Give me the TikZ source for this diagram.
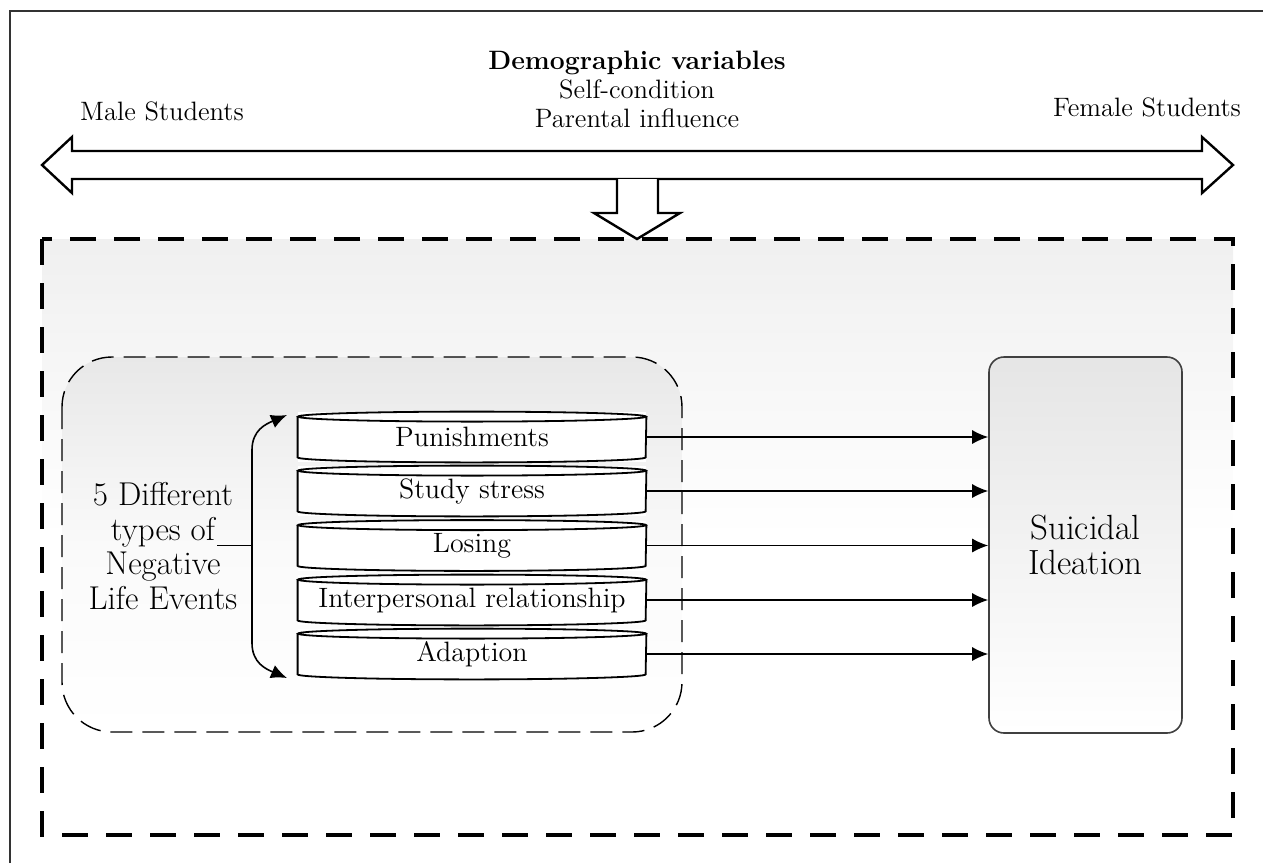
\documentclass[tikz,border=0pt]{standalone}
\usetikzlibrary{arrows.meta,calc}
\tikzset{
    headtext/.style = {align=center, inner sep=0pt,
        font=\fontsize{13.3pt}{14.5pt}\selectfont},
    events/.style = {align=center, inner sep=0pt,
        font=\fontsize{16.5pt}{17.2pt}\selectfont},
    disk/.style = {rectangle, inner sep=0pt, fill=white,
        minimum width=174pt, minimum height=25pt,
        font=\fontsize{14pt}{15pt}\selectfont},
    diskline/.style = {draw, line width=0.9pt},
    conn/.style = {draw, ->, line width=0.7pt},
    bigframe/.style = {draw, line width=1.7pt, dash pattern=on 13pt off 9pt},
    groupframe/.style = {draw, line width=0.7pt, dash pattern=on 11pt off 5pt,
        rounded corners=25pt},
    outcome/.style = {draw=black!75, line width=0.8pt, rounded corners=7.5pt,
        top color=black!10, bottom color=white,
        minimum width=96.5pt, minimum height=188pt, align=center,
        font=\fontsize{17.5pt}{17.5pt}\selectfont},
    blockarrow/.style = {draw, line width=1.2pt, fill=white, line join=miter}
}

\begin{document}
\begin{tikzpicture}[x=0.5pt, y=-0.5pt, >={Latex[length=8pt,width=7pt]}]
        \useasboundingbox (0,0) rectangle (1263,863);
        % page frame, cut at right and bottom
        \draw[black!80, line width=0.75pt] (10,863) -- (10,11) -- (1263,11);
        % soft backgrounds
        \shade[top color=black!6, bottom color=white, middle color=white] (42,239) rectangle (1233,835);
        \shade[rounded corners=25pt, top color=black!9, bottom color=white, middle color=black!2] (62,357) rectangle (682,732);
        \draw[bigframe] (42,239) rectangle (1233,835);
        \draw[groupframe] (62,357) rectangle (682,732);

        % gender axis and demographic input
        \node[headtext] (demog) at (637,89) {\textbf{Demographic variables}\\Self-condition\\Parental influence};
        \node[headtext] (male) at (162,111) {Male Students};
        \node[headtext] (female) at (1147,107) {Female Students};
        \draw[blockarrow] (42,165) -- (72,137) -- (72,151) -- (1202,151) -- (1202,137) -- (1233,165)
            -- (1202,193) -- (1202,179) -- (72,179) -- (72,193) -- cycle;
        \draw[blockarrow] (617,179) -- (617,213) -- (594,213) -- (637,239) -- (680,213) -- (658,213) -- (658,179);

        \node[outcome] (ideation) at (1085.5,545) {Suicidal\\Ideation};

        \foreach \nm/\txt/\yy in {pun/Punishments/437, stu/Study stress/491, los/Losing/545.5,
                                  inter/Interpersonal relationship/600, ada/Adaption/654}{
            \node[disk] (\nm) at (472,\yy) {\txt};
            \draw[diskline] ([yshift=-2.5pt]\nm.north) ellipse [x radius=87pt, y radius=2.5pt];
            \draw[diskline] ([yshift=-2.5pt]\nm.north west) -- ([yshift=2.5pt]\nm.south west)
                arc [start angle=180, end angle=360, x radius=87pt, y radius=2.5pt] -- ([yshift=-2.5pt]\nm.north east);
            \draw[conn] (\nm.east) -- (\nm.east -| ideation.west);
        }

        \node[events] (events) at (163,546) {5 Different\\types of\\Negative\\Life Events};
        \coordinate (btop) at (287,415);
        \coordinate (bbot) at (287,678);
        \coordinate (hook) at (217,545);
        \coordinate (spine) at (252,545);
        \draw (hook) -- (spine);
        \draw[<->, line width=0.8pt] (btop) .. controls ($(spine|-btop)+(14,9)$) and ($(spine|-btop)+(0,15)$) .. ($(spine|-btop)+(0,35)$)
            -- ($(spine|-bbot)+(0,-35)$) .. controls ($(spine|-bbot)+(0,-15)$) and ($(spine|-bbot)+(14,-9)$) .. (bbot);
\end{tikzpicture}
\end{document}
